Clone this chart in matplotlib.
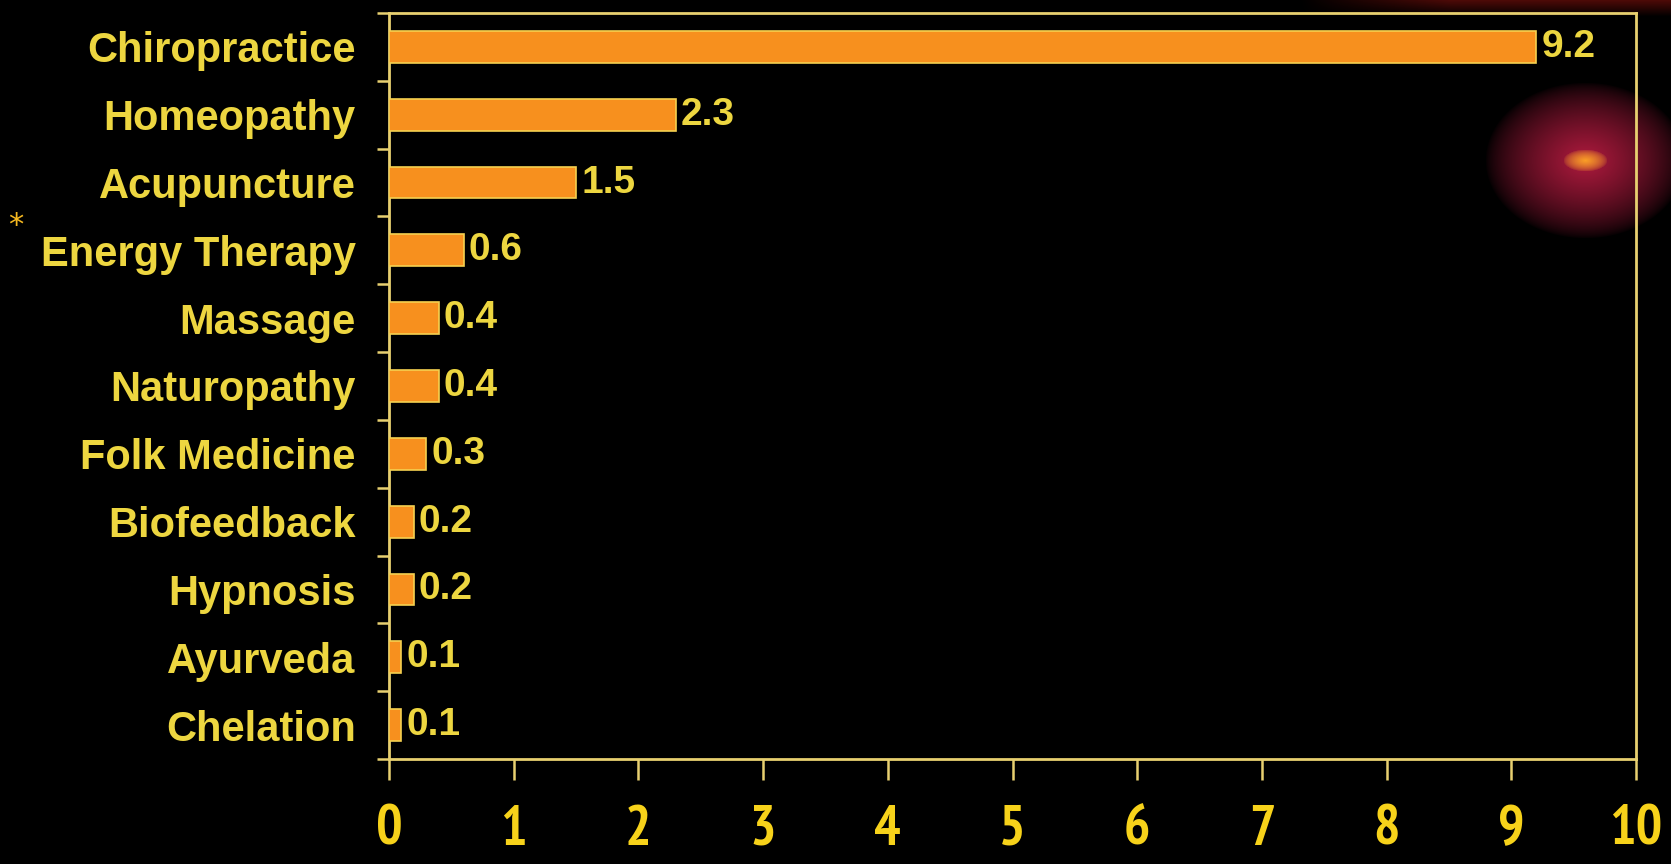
import matplotlib
matplotlib.use("Agg")
import matplotlib.pyplot as plt
import numpy as np

categories = ["Chiropractice", "Homeopathy", "Acupuncture", "Energy Therapy", "Massage",
              "Naturopathy", "Folk Medicine", "Biofeedback", "Hypnosis", "Ayurveda", "Chelation"]
values = [9.2, 2.3, 1.5, 0.6, 0.4, 0.4, 0.3, 0.2, 0.2, 0.1, 0.1]
value_labels = ["9.2", "2.3", "1.5", "0.6", "0.4", "0.4", "0.3", "0.2", "0.2", "0.1", "0.1"]
xticks = [0, 1, 2, 3, 4, 5, 6, 7, 8, 9, 10]

plt.rcParams["font.family"] = ["PT Sans Narrow", "Open Sans Condensed", "DejaVu Sans"]
LABFAM = ["Liberation Sans", "DejaVu Sans"]

TXT = "#EDD640"
TICKTXT = "#F7D21A"
BAR = "#F7901E"
EDGE = "#F5D050"
AX = "#E8D070"

W, H, DPI = 1671, 864, 100
fig = plt.figure(figsize=(W / DPI, H / DPI), dpi=DPI, facecolor="black")

# background glow
bg = fig.add_axes([0, 0, 1, 1], zorder=0)
bg.set_axis_off()
yy, xx = np.mgrid[0:H, 0:W]
cx, cy = 1585, 160
r = np.sqrt(((xx - cx) / 100.0) ** 2 + ((yy - cy) / 78.0) ** 2)
a = np.clip(1 - r, 0, 1) ** 0.7
img = np.zeros((H, W, 3))
img[..., 0] = 0.68 * a
img[..., 1] = 0.10 * a
img[..., 2] = 0.24 * a
r2 = np.sqrt(((xx - cx) / 22.0) ** 2 + ((yy - cy) / 11.0) ** 2)
b = np.clip(1 - r2, 0, 1) ** 0.6
img[..., 0] = img[..., 0] * (1 - b) + 0.98 * b
img[..., 1] = img[..., 1] * (1 - b) + 0.62 * b
img[..., 2] = img[..., 2] * (1 - b) + 0.15 * b
# faint red haze along the top right edge
t = np.clip(1 - yy / 16.0, 0, 1) * np.clip((xx - 1300) / 150.0, 0, 1)
img[..., 0] = np.maximum(img[..., 0], 0.30 * t)
img[..., 1] = np.maximum(img[..., 1], 0.04 * t)
img[..., 2] = np.maximum(img[..., 2], 0.03 * t)
bg.imshow(img, extent=[0, W, H, 0], aspect="auto")
bg.set_xlim(0, W)
bg.set_ylim(H, 0)

ax = fig.add_axes([389 / W, 1 - 759 / H, (1636 - 389) / W, (759 - 13) / H], zorder=1)
ax.patch.set_alpha(0)

y = np.arange(len(categories))
ax.barh(y, values, height=0.47, color=BAR, edgecolor=EDGE, linewidth=1.2, zorder=3)
for yi, v, lab in zip(y, values, value_labels):
    ax.text(v + 0.04, yi, lab, color=TXT, fontsize=28, fontweight="bold", family=LABFAM,
            va="center", ha="left")

ax.set_ylim(len(categories) - 0.5, -0.5)
ax.set_xlim(0, 10)
ax.set_yticks(y)
ax.set_yticklabels(categories, fontsize=30, fontweight="bold", color=TXT, family=LABFAM)
ax.tick_params(axis="y", which="major", length=0, pad=24)
ax.set_yticks(np.arange(-0.5, len(categories), 1.0), minor=True)
ax.tick_params(axis="y", which="minor", length=9, width=1.8, color=AX, direction="out")
ax.set_xticks(xticks)
ax.set_xticklabels([str(t) for t in xticks], fontsize=40, fontweight="bold", color=TICKTXT)
ax.tick_params(axis="x", length=15, width=1.8, color=AX, direction="out", pad=18)
for s in ax.spines.values():
    s.set_color(AX)
    s.set_linewidth(2)

fig.text(16 / W, 1 - 226 / H, "*", color="#F5B820", fontsize=22, ha="center", va="center",
         family="DejaVu Sans")

fig.savefig("out.png", dpi=DPI, facecolor="black")
